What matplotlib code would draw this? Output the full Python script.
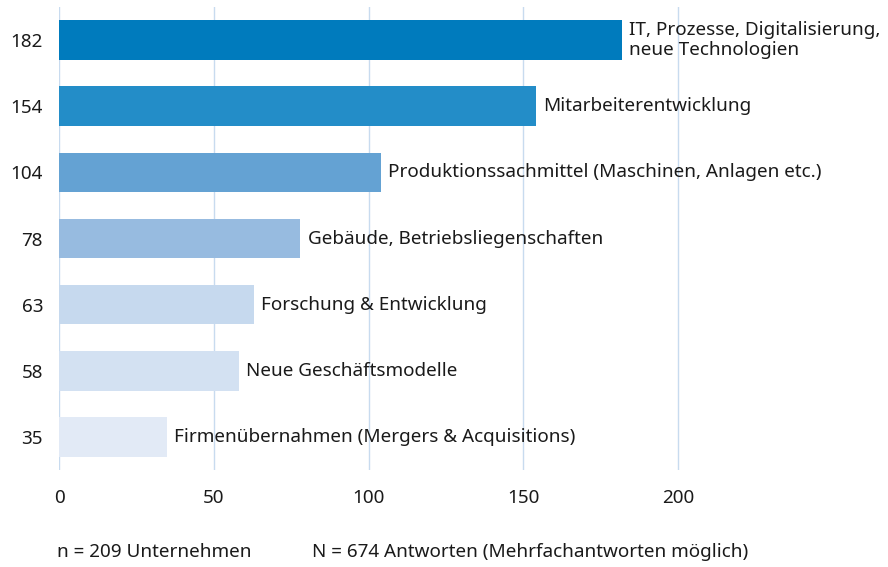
"""
Investitionsschwerpunkte: horizontal bar chart with labels next to the bars.
"""

import matplotlib

matplotlib.use("Agg")
import matplotlib.pyplot as plt


CATEGORIES = [
    "IT, Prozesse, Digitalisierung,\nneue Technologien",
    "Mitarbeiterentwicklung",
    "Produktionssachmittel (Maschinen, Anlagen etc.)",
    "Gebäude, Betriebsliegenschaften",
    "Forschung & Entwicklung",
    "Neue Geschäftsmodelle",
    "Firmenübernahmen (Mergers & Acquisitions)",
]
VALUES = [182, 154, 104, 78, 63, 58, 35]
BAR_COLORS = [
    "#007bbd",
    "#238dc8",
    "#64a2d3",
    "#97bbe0",
    "#c6d9ee",
    "#d3e1f2",
    "#e2eaf6",
]
X_TICKS = [0, 50, 100, 150, 200]
FOOTER_LEFT = "n = 209 Unternehmen"
FOOTER_RIGHT = "N = 674 Antworten (Mehrfachantworten möglich)"

FONT_SIZE = 13.6
TEXT_COLOR = "#1a1a1a"

plt.rcParams["font.family"] = ["Noto Sans", "DejaVu Sans"]

figure = plt.figure(figsize=(8.88, 5.67), dpi=100)
axis = figure.add_axes([59 / 888, 97 / 567, 829 / 888, 463 / 567])

positions = list(range(len(VALUES)))

axis.barh(
    positions,
    VALUES,
    height=0.6,
    color=BAR_COLORS,
    zorder=2,
)

for position, value, label in zip(positions, VALUES, CATEGORIES):
    axis.text(
        value + 2.3,
        position,
        label,
        va="center",
        ha="left",
        fontsize=FONT_SIZE,
        color=TEXT_COLOR,
        linespacing=1.15,
        zorder=3,
        clip_on=False,
    )

axis.set_ylim(len(VALUES) - 0.5, -0.5)
axis.set_xlim(0, 829 / 3.095)

axis.set_yticks(positions)
axis.set_yticklabels([str(v) for v in VALUES])
axis.set_xticks(X_TICKS)

axis.tick_params(axis="y", length=0, pad=11.5, labelsize=FONT_SIZE, labelcolor=TEXT_COLOR)
axis.tick_params(axis="x", length=0, pad=14, labelsize=FONT_SIZE, labelcolor=TEXT_COLOR)

axis.grid(axis="x", color="#c8dbef", linewidth=1.0, zorder=1)
axis.set_axisbelow(True)

for spine in axis.spines.values():
    spine.set_visible(False)

figure.text(57 / 888, 1 - 552 / 567, FOOTER_LEFT, fontsize=FONT_SIZE,
            color=TEXT_COLOR, va="center", ha="left")
figure.text(312 / 888, 1 - 552 / 567, FOOTER_RIGHT, fontsize=FONT_SIZE,
            color=TEXT_COLOR, va="center", ha="left")

figure.savefig("out.png", dpi=100)
plt.close(figure)
